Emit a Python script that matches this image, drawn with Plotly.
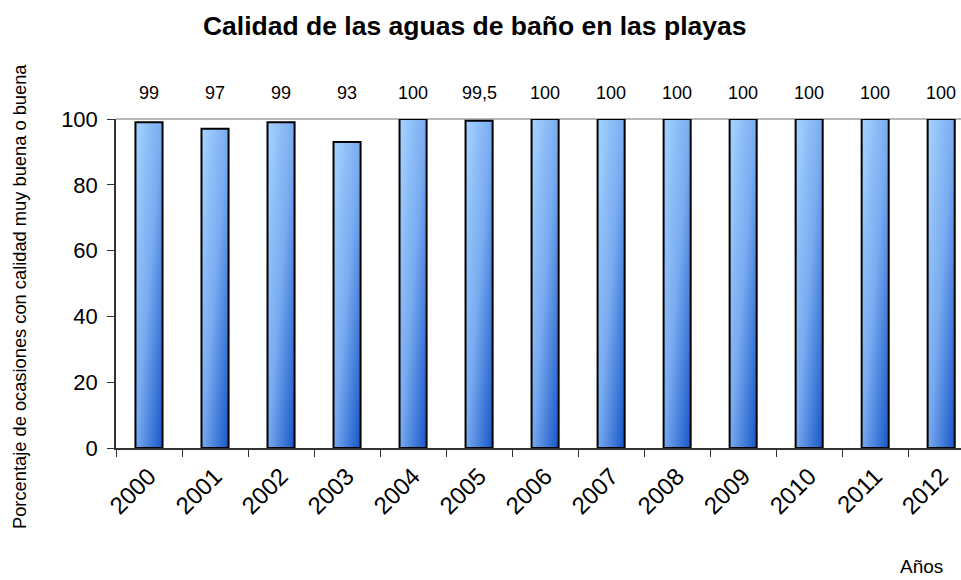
import plotly.graph_objects as go

years = ["2000", "2001", "2002", "2003", "2004", "2005", "2006",
         "2007", "2008", "2009", "2010", "2011", "2012"]
values = [99, 97, 99, 93, 100, 99.5, 100, 100, 100, 100, 100, 100, 100]
y_ticks = [0, 20, 40, 60, 80, 100]

title_text = "Calidad de las aguas de baño en las playas"
y_title = "Porcentaje de ocasiones con calidad muy buena o buena"
x_title = "Años"

labels = [("%g" % v).replace(".", ",") for v in values]

fig = go.Figure()
fig.add_trace(go.Bar(
    x=years, y=values, width=0.41,
    marker=dict(color="#6fa3ea", line=dict(color="black", width=2)),
    hoverinfo="skip",
))

annotations = [
    dict(x=i, y=1, xref="x", yref="paper", text=lab, showarrow=False,
         xanchor="center", yanchor="middle", yshift=26,
         font=dict(size=18, color="black"))
    for i, lab in enumerate(labels)
]
annotations.append(dict(text=x_title, xref="paper", yref="paper", x=0.953, y=-0.36,
                        xanchor="center", yanchor="middle", showarrow=False,
                        font=dict(size=19, color="black")))
annotations.append(dict(text=y_title, xref="paper", yref="paper", x=-0.1148, y=0.462,
                        xanchor="center", yanchor="middle", showarrow=False,
                        textangle=-90, font=dict(size=18.3, color="black")))

fig.update_layout(
    width=961, height=580,
    margin=dict(l=116, r=0, t=119, b=132, autoexpand=False),
    paper_bgcolor="white", plot_bgcolor="white",
    showlegend=False,
    font=dict(family="Liberation Sans, Arial", color="black"),
    title=dict(text="<b>" + title_text + "</b>", x=0.494, xanchor="center",
               y=0.955, yanchor="middle",
               font=dict(size=26.5, family="Liberation Sans, Arial", color="black")),
    xaxis=dict(
        type="category", range=[-0.5, 12.3], automargin=False,
        showline=True, linecolor="#333333", linewidth=1.5,
        ticks="outside", tickson="boundaries", ticklen=7, tickcolor="#333333",
        ticklabelstandoff=3,
        tickangle=-45, tickfont=dict(size=24),
        showgrid=False,
    ),
    yaxis=dict(
        range=[0, 100], tickvals=y_ticks, automargin=False,
        showline=True, linecolor="#333333", linewidth=1.5,
        ticks="outside", ticklen=7, tickcolor="#333333", ticklabelstandoff=5,
        tickfont=dict(size=22), showgrid=False, zeroline=False,
    ),
    shapes=[dict(type="line", xref="paper", yref="paper", x0=0, x1=1, y0=1, y1=1,
                 line=dict(color="#a0a0a0", width=1.5), layer="below")],
    annotations=annotations,
)

post = """
document.body.style.margin = '0';
document.body.style.padding = '0';
var gd = document.getElementById('{plot_id}');
function applyGrad(){
  var svg = gd.querySelector('svg.main-svg');
  if(!svg) return;
  var ns = 'http://www.w3.org/2000/svg';
  if(!document.getElementById('bargrad')){
    var defs = svg.querySelector('defs');
    if(!defs){ defs = document.createElementNS(ns,'defs'); svg.insertBefore(defs, svg.firstChild); }
    var lg = document.createElementNS(ns,'linearGradient');
    lg.setAttribute('id','bargrad');
    lg.setAttribute('x1','0'); lg.setAttribute('y1','0');
    lg.setAttribute('x2','1'); lg.setAttribute('y2','1');
    var stops = [['0','#a6d4ff'],['0.5','#78aaf0'],['1','#1656c6']];
    stops.forEach(function(s){
      var st = document.createElementNS(ns,'stop');
      st.setAttribute('offset', s[0]); st.setAttribute('stop-color', s[1]);
      lg.appendChild(st);
    });
    defs.appendChild(lg);
  }
  gd.querySelectorAll('.barlayer .point path').forEach(function(p){ p.style.fill = 'url(#bargrad)'; });
}
applyGrad();
gd.on('plotly_afterplot', applyGrad);
"""

fig.write_html("out.html", post_script=post, config={"displayModeBar": False})
